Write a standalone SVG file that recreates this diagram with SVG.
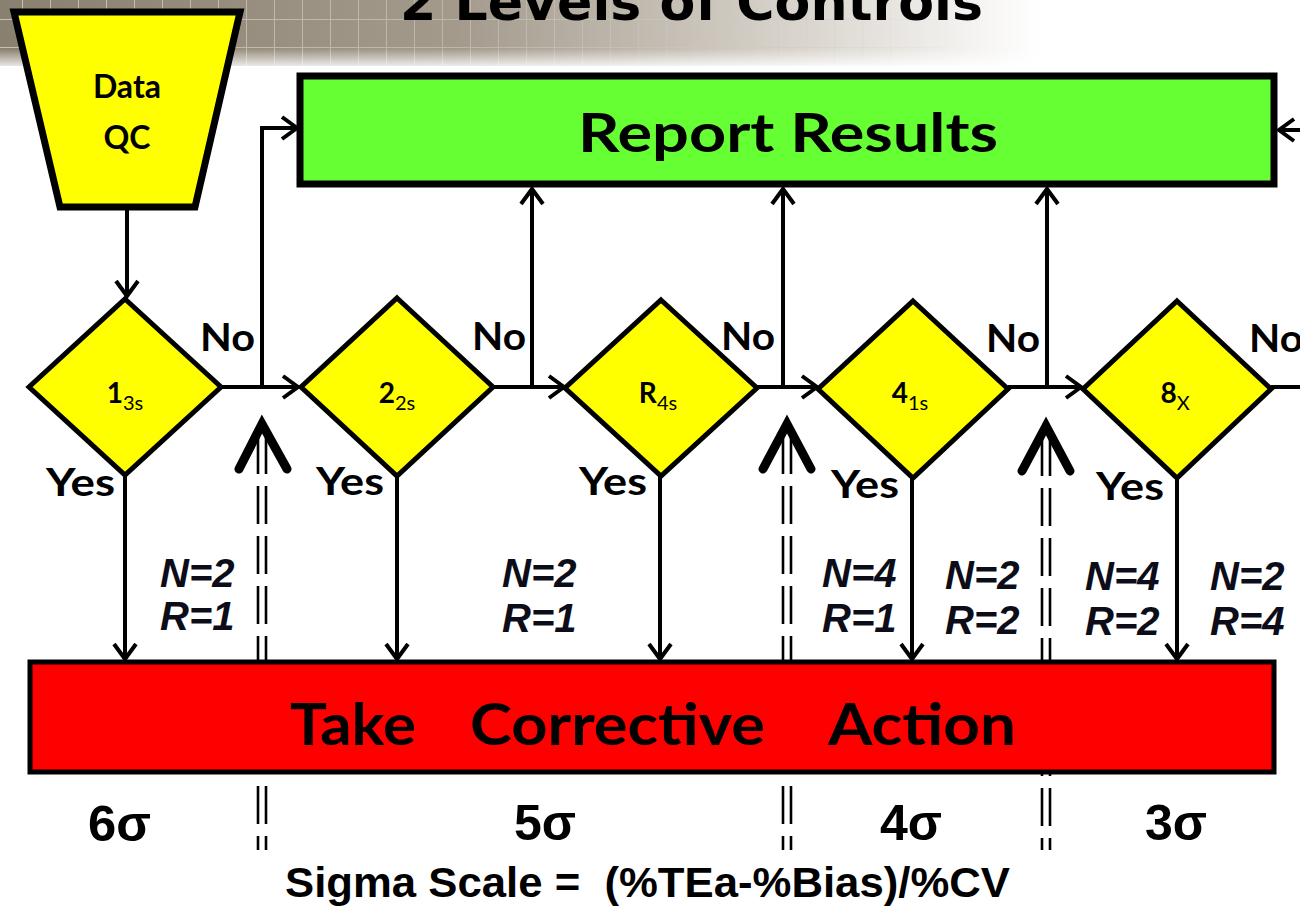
<svg xmlns="http://www.w3.org/2000/svg" width="1300" height="907" viewBox="0 0 1300 907">
<defs>
<linearGradient id="hdrH" x1="0" y1="0" x2="1" y2="0">
<stop offset="0" stop-color="#8a806f"/>
<stop offset="0.35" stop-color="#a39a8c"/>
<stop offset="0.6" stop-color="#d6d1c9"/>
<stop offset="0.8" stop-color="#ffffff"/>
</linearGradient>
<linearGradient id="hdrV" x1="0" y1="0" x2="0" y2="1">
<stop offset="0" stop-color="#fff" stop-opacity="0"/>
<stop offset="0.7" stop-color="#fff" stop-opacity="0"/>
<stop offset="1" stop-color="#fff" stop-opacity="1"/>
</linearGradient>
<linearGradient id="gridFade" x1="0" y1="0" x2="1" y2="0">
<stop offset="0" stop-color="#fff" stop-opacity="0.9"/>
<stop offset="0.6" stop-color="#fff" stop-opacity="0.4"/>
<stop offset="0.75" stop-color="#fff" stop-opacity="0"/>
</linearGradient>
<mask id="gm"><rect x="0" y="0" width="1300" height="70" fill="url(#gridFade)"/></mask>
<pattern id="grid" x="-6" y="-8" width="28" height="28" patternUnits="userSpaceOnUse">
<path d="M0,0 V28 M0,28 H28" stroke="#cfc8bd" stroke-width="2" fill="none"/>
</pattern>
<marker id="ah" markerUnits="userSpaceOnUse" markerWidth="30" markerHeight="30" refX="0" refY="0" viewBox="-20 -15 25 30" orient="auto">
<path d="M-15,-11 L0,0 L-15,11" fill="none" stroke="#000" stroke-width="4"/>
</marker>
<style>
.ln{stroke:#000;stroke-width:4;fill:none}
.dd{stroke:#000;stroke-width:2.6;fill:none;stroke-dasharray:38 12}
.bigah{stroke:#000;stroke-width:9;fill:none;stroke-linecap:round;stroke-linejoin:miter}
.dia{fill:#ffff00;stroke:#000;stroke-width:5}
.cal{font-family:Lato,"Open Sans","Liberation Sans",sans-serif;font-weight:bold;fill:#000}
.lbl{font-family:Lato,"Liberation Sans",sans-serif;font-weight:bold;font-size:38px;fill:#000}
.nr{font-family:"Liberation Sans",Arial,sans-serif;font-weight:bold;font-style:italic;font-size:40px;fill:#0d0d1a}
.sig{font-family:"Liberation Sans",Arial,sans-serif;font-weight:bold;font-size:50px;fill:#000}
.dl{font-family:Lato,"Open Sans",sans-serif;font-weight:bold;font-size:28px;fill:#000}
.sub{font-size:20px;font-weight:normal}
</style>
</defs>
<rect x="0" y="0" width="1300" height="907" fill="#fff"/>
<g id="header">
<rect x="0" y="0" width="1300" height="66" fill="url(#hdrH)"/>
<rect x="0" y="0" width="1300" height="66" fill="url(#grid)" mask="url(#gm)"/>
<rect x="0" y="0" width="1300" height="70" fill="url(#hdrV)"/>
<text x="400" y="20" font-family="'DejaVu Sans',Verdana,sans-serif" font-weight="bold" font-size="52" textLength="583" lengthAdjust="spacingAndGlyphs" fill="#000">2 Levels of Controls</text>
</g>
<g id="dashed">
<path class="dd" d="M258,436 V850 M266,436 V850"/>
<path class="dd" d="M783,436 V850 M791,436 V850"/>
<path class="dd" d="M1042,438 V850 M1050,438 V850"/>
</g>
<g id="connectors">
<path class="ln" d="M127,208 V296" marker-end="url(#ah)"/>
<path class="ln" d="M222,387 H298" marker-end="url(#ah)"/>
<path class="ln" d="M262,387 V128 H297" marker-end="url(#ah)"/>
<path class="ln" d="M493,387 H564" marker-end="url(#ah)"/>
<path class="ln" d="M532,387 V189" marker-end="url(#ah)"/>
<path class="ln" d="M757,387 H817" marker-end="url(#ah)"/>
<path class="ln" d="M783,387 V189" marker-end="url(#ah)"/>
<path class="ln" d="M1008,387 H1081" marker-end="url(#ah)"/>
<path class="ln" d="M1047,387 V189" marker-end="url(#ah)"/>
<path class="ln" d="M1271,387 H1300"/>
<path class="ln" d="M1300,130 H1279" marker-end="url(#ah)"/>
<path class="ln" d="M125,475 V659" marker-end="url(#ah)"/>
<path class="ln" d="M397,476 V659" marker-end="url(#ah)"/>
<path class="ln" d="M660,476 V659" marker-end="url(#ah)"/>
<path class="ln" d="M912,478 V659" marker-end="url(#ah)"/>
<path class="ln" d="M1177,478 V659" marker-end="url(#ah)"/>
<path class="bigah" d="M239,469 L262,424 L287,469"/>
<path class="bigah" d="M763,469 L787,424 L811,469"/>
<path class="bigah" d="M1022,471 L1046,426 L1070,471"/>
</g>
<g id="dataqc">
<polygon points="14,12 240,12 195,207 60,207" fill="#ffff00" stroke="#000" stroke-width="7" stroke-linejoin="miter"/>
<text class="cal" x="127" y="98" font-size="32" text-anchor="middle">Data</text>
<text class="cal" x="127" y="149" font-size="32" text-anchor="middle">QC</text>
</g>
<g id="report">
<rect x="300" y="76" width="974" height="108" fill="#66ff33" stroke="#000" stroke-width="7"/>
<text class="cal" x="578" y="152" font-size="54" textLength="420" lengthAdjust="spacingAndGlyphs">Report Results</text>
</g>
<g id="d1">
<polygon class="dia" points="125,299 221,387 125,475 29,387"/>
<text class="dl" x="125" y="403" text-anchor="middle">1<tspan class="sub" dy="7">3s</tspan></text>
</g>
<g id="d2">
<polygon class="dia" points="397,298 493,387 397,476 301,387"/>
<text class="dl" x="397" y="403" text-anchor="middle">2<tspan class="sub" dy="7">2s</tspan></text>
</g>
<g id="d3">
<polygon class="dia" points="661,300 757,388 661,476 565,388"/>
<text class="dl" x="658" y="403" text-anchor="middle">R<tspan class="sub" dy="7">4s</tspan></text>
</g>
<g id="d4">
<polygon class="dia" points="913,301 1008,389 913,478 818,389"/>
<text class="dl" x="910" y="403" text-anchor="middle">4<tspan class="sub" dy="7">1s</tspan></text>
</g>
<g id="d5">
<polygon class="dia" points="1177,301 1271,389 1177,478 1083,389"/>
<text class="dl" x="1175" y="403" text-anchor="middle">8<tspan class="sub" dy="7">X</tspan></text>
</g>
<g id="labels">
<text class="lbl" x="200" y="351" textLength="55" lengthAdjust="spacingAndGlyphs">No</text>
<text class="lbl" x="472" y="350" textLength="54" lengthAdjust="spacingAndGlyphs">No</text>
<text class="lbl" x="721" y="350" textLength="54" lengthAdjust="spacingAndGlyphs">No</text>
<text class="lbl" x="986" y="352" textLength="54" lengthAdjust="spacingAndGlyphs">No</text>
<text class="lbl" x="1249" y="352" textLength="54" lengthAdjust="spacingAndGlyphs">No</text>
<text class="lbl" x="46" y="496" textLength="69" lengthAdjust="spacingAndGlyphs">Yes</text>
<text class="lbl" x="316" y="495" textLength="68" lengthAdjust="spacingAndGlyphs">Yes</text>
<text class="lbl" x="579" y="495" textLength="68" lengthAdjust="spacingAndGlyphs">Yes</text>
<text class="lbl" x="831" y="498" textLength="68" lengthAdjust="spacingAndGlyphs">Yes</text>
<text class="lbl" x="1096" y="500" textLength="68" lengthAdjust="spacingAndGlyphs">Yes</text>
<text class="nr" x="160" y="587">N=2</text>
<text class="nr" x="160" y="630">R=1</text>
<text class="nr" x="502" y="587">N=2</text>
<text class="nr" x="502" y="632">R=1</text>
<text class="nr" x="822" y="587">N=4</text>
<text class="nr" x="822" y="632">R=1</text>
<text class="nr" x="945" y="589">N=2</text>
<text class="nr" x="945" y="634">R=2</text>
<text class="nr" x="1085" y="590">N=4</text>
<text class="nr" x="1085" y="635">R=2</text>
<text class="nr" x="1210" y="590">N=2</text>
<text class="nr" x="1210" y="635">R=4</text>
</g>
<g id="action">
<rect x="30" y="662" width="1244" height="110" fill="#ff0000" stroke="#000" stroke-width="5"/>
<text class="cal" x="290" y="745" font-size="58" textLength="126" lengthAdjust="spacingAndGlyphs">Take</text>
<text class="cal" x="470" y="745" font-size="58" textLength="295" lengthAdjust="spacingAndGlyphs">Corrective</text>
<text class="cal" x="828" y="745" font-size="58" textLength="188" lengthAdjust="spacingAndGlyphs">Action</text>
</g>
<g id="sigma">
<text class="sig" x="88" y="841" textLength="63" lengthAdjust="spacingAndGlyphs">6σ</text>
<text class="sig" x="514" y="840" textLength="62" lengthAdjust="spacingAndGlyphs">5σ</text>
<text class="sig" x="880" y="840" textLength="62" lengthAdjust="spacingAndGlyphs">4σ</text>
<text class="sig" x="1145" y="840" textLength="62" lengthAdjust="spacingAndGlyphs">3σ</text>
<text x="285" y="897" font-family="'Liberation Sans',Arial,sans-serif" font-weight="bold" font-size="42" textLength="725" lengthAdjust="spacingAndGlyphs" fill="#000" xml:space="preserve">Sigma Scale =  (%TEa-%Bias)/%CV</text>
</g>
</svg>
